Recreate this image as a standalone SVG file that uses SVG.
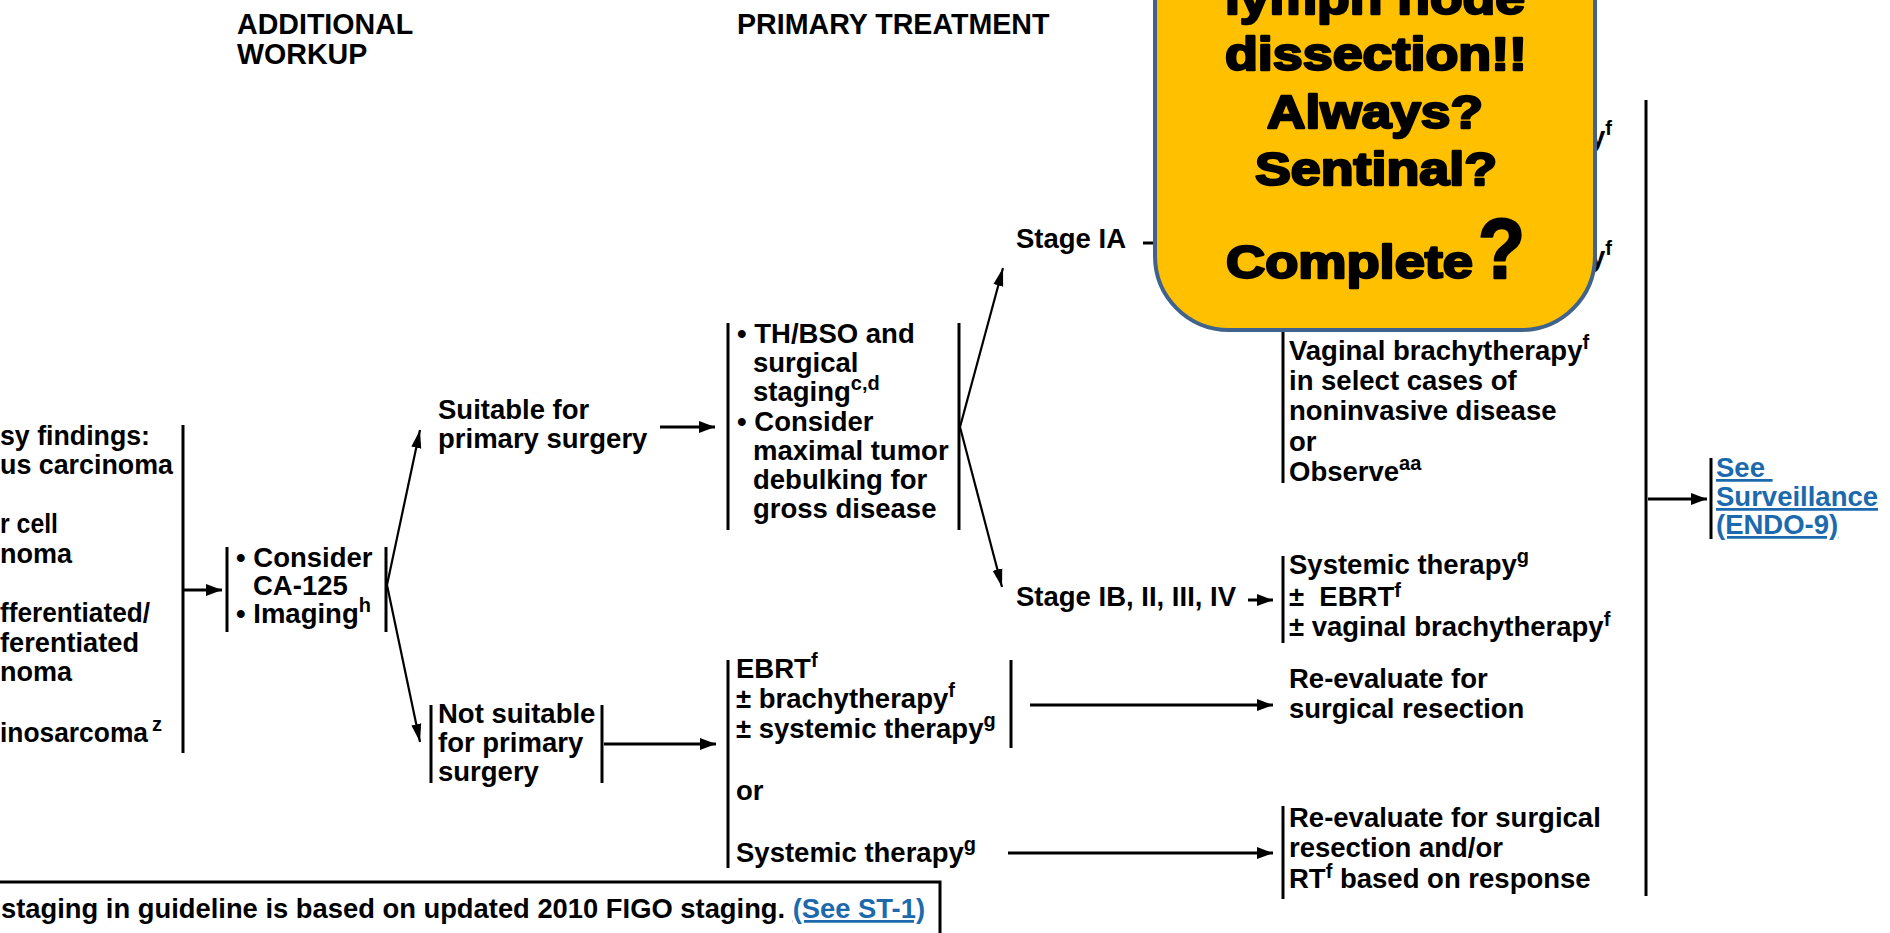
<svg xmlns="http://www.w3.org/2000/svg" width="1890" height="933" viewBox="0 0 1890 933">
<defs>
<style>
.t{font-family:"Liberation Sans",Arial,sans-serif;font-weight:bold;font-size:27.5px;fill:#000}
.h{font-size:28.6px}
.s{font-size:20px}
.lk{fill:#1c6aad;text-decoration:underline}
.bar{stroke:#000;stroke-width:3;fill:none}
.c{stroke:#000;stroke-width:3;fill:none}
.cd{stroke:#000;stroke-width:2.2;fill:none}
.co{font-family:"Liberation Sans",Arial,sans-serif;font-weight:bold;font-size:46px;fill:#000;stroke:#000;stroke-width:2.4;stroke-linejoin:round}
</style>
<marker id="ah" markerUnits="userSpaceOnUse" markerWidth="18" markerHeight="14" refX="16" refY="7" orient="auto">
<path d="M0,1 L16,7 L0,13 z" fill="#000"/>
</marker>
<marker id="ahd" markerUnits="userSpaceOnUse" markerWidth="20" markerHeight="12" refX="18" refY="6" orient="auto">
<path d="M0,1 L18,6 L0,11 z" fill="#000"/>
</marker>
</defs>
<rect x="0" y="0" width="1890" height="933" fill="#fff"/>

<g id="headers">
<text class="t h" x="237" y="34">ADDITIONAL</text>
<text class="t h" x="237" y="64">WORKUP</text>
<text class="t h" x="737" y="34">PRIMARY TREATMENT</text>
</g>

<g id="connectors">
<line class="c" x1="183" y1="590" x2="222" y2="590" marker-end="url(#ah)"/>
<line class="cd" x1="387" y1="585" x2="420" y2="430" marker-end="url(#ahd)"/>
<line class="cd" x1="387" y1="585" x2="420" y2="742" marker-end="url(#ahd)"/>
<line class="c" x1="660" y1="427" x2="715" y2="427" marker-end="url(#ah)"/>
<line class="cd" x1="960" y1="427" x2="1003" y2="268" marker-end="url(#ahd)"/>
<line class="cd" x1="960" y1="427" x2="1002" y2="587" marker-end="url(#ahd)"/>
<line class="c" x1="1143" y1="243" x2="1165" y2="243"/>
<line class="c" x1="1248" y1="600" x2="1273" y2="600" marker-end="url(#ah)"/>
<line class="c" x1="604" y1="744" x2="716" y2="744" marker-end="url(#ah)"/>
<line class="c" x1="1030" y1="705" x2="1273" y2="705" marker-end="url(#ah)"/>
<line class="c" x1="1008" y1="853" x2="1273" y2="853" marker-end="url(#ah)"/>
<line class="bar" x1="1646" y1="100" x2="1646" y2="896"/>
<line class="c" x1="1648" y1="499" x2="1707" y2="499" marker-end="url(#ah)"/>
</g>

<g id="n-findings">
<text class="t" x="0" y="445" textLength="150" lengthAdjust="spacingAndGlyphs">sy findings:</text>
<text class="t" x="0" y="474" textLength="173" lengthAdjust="spacingAndGlyphs">us carcinoma</text>
<text class="t" x="0" y="533" textLength="58" lengthAdjust="spacingAndGlyphs">r cell</text>
<text class="t" x="0" y="563" textLength="72" lengthAdjust="spacingAndGlyphs">noma</text>
<text class="t" x="0" y="622" textLength="150" lengthAdjust="spacingAndGlyphs">fferentiated/</text>
<text class="t" x="0" y="652" textLength="139" lengthAdjust="spacingAndGlyphs">ferentiated</text>
<text class="t" x="0" y="681" textLength="72" lengthAdjust="spacingAndGlyphs">noma</text>
<text class="t" x="0" y="742" textLength="148" lengthAdjust="spacingAndGlyphs">inosarcoma</text>
<text class="t s" x="152" y="731">z</text>
<line class="bar" x1="183" y1="425" x2="183" y2="753"/>
</g>

<g id="n-workup">
<line class="bar" x1="227" y1="547" x2="227" y2="632"/>
<line class="bar" x1="386" y1="547" x2="386" y2="632"/>
<text class="t" x="236" y="567">• Consider</text>
<text class="t" x="253" y="595">CA-125</text>
<text class="t" x="236" y="623">• Imaging<tspan class="s" dy="-11">h</tspan></text>
</g>

<g id="n-suitable">
<text class="t" x="438" y="419">Suitable for</text>
<text class="t" x="438" y="448">primary surgery</text>
</g>

<g id="n-notsuitable">
<line class="bar" x1="431" y1="705" x2="431" y2="783"/>
<line class="bar" x1="602" y1="705" x2="602" y2="783"/>
<text class="t" x="438" y="723">Not suitable</text>
<text class="t" x="438" y="752">for primary</text>
<text class="t" x="438" y="781">surgery</text>
</g>

<g id="n-thbso">
<line class="bar" x1="728" y1="323" x2="728" y2="530"/>
<line class="bar" x1="959" y1="323" x2="959" y2="530"/>
<text class="t" x="737" y="343">• TH/BSO and</text>
<text class="t" x="753" y="372">surgical</text>
<text class="t" x="753" y="401">staging<tspan class="s" dy="-11">c,d</tspan></text>
<text class="t" x="737" y="431">• Consider</text>
<text class="t" x="753" y="460">maximal tumor</text>
<text class="t" x="753" y="489">debulking for</text>
<text class="t" x="753" y="518">gross disease</text>
</g>

<g id="n-stageIA">
<text class="t" x="1016" y="248">Stage IA</text>
</g>

<g id="n-stageIB">
<text class="t" x="1016" y="606">Stage IB, II, III, IV</text>
</g>

<g id="n-stageIA-options">
<text class="t" x="1590" y="146">y<tspan class="s" dy="-11">f</tspan></text>
<text class="t" x="1590" y="266">y<tspan class="s" dy="-11">f</tspan></text>
</g>

<g id="n-vaginal">
<line class="bar" x1="1283" y1="300" x2="1283" y2="483"/>
<text class="t" x="1289" y="360">Vaginal brachytherapy<tspan class="s" dy="-11">f</tspan></text>
<text class="t" x="1289" y="390">in select cases of</text>
<text class="t" x="1289" y="420">noninvasive disease</text>
<text class="t" x="1289" y="451">or</text>
<text class="t" x="1289" y="481">Observe<tspan class="s" dy="-11">aa</tspan></text>
</g>

<g id="n-systemic">
<line class="bar" x1="1283" y1="556" x2="1283" y2="643"/>
<text class="t" x="1289" y="574">Systemic therapy<tspan class="s" dy="-11">g</tspan></text>
<text class="t" x="1289" y="606">±&#160; EBRT<tspan class="s" dy="-9">f</tspan></text>
<text class="t" x="1289" y="636">± vaginal brachytherapy<tspan class="s" dy="-10">f</tspan></text>
</g>

<g id="n-ebrt">
<line class="bar" x1="728" y1="660" x2="728" y2="868"/>
<line class="bar" x1="1011" y1="660" x2="1011" y2="748"/>
<text class="t" x="736" y="678">EBRT<tspan class="s" dy="-11">f</tspan></text>
<text class="t" x="736" y="708">± brachytherapy<tspan class="s" dy="-11">f</tspan></text>
<text class="t" x="736" y="738">± systemic therapy<tspan class="s" dy="-11">g</tspan></text>
<text class="t" x="736" y="800">or</text>
<text class="t" x="736" y="862">Systemic therapy<tspan class="s" dy="-11">g</tspan></text>
</g>

<g id="n-reeval1">
<text class="t" x="1289" y="688">Re-evaluate for</text>
<text class="t" x="1289" y="718">surgical resection</text>
</g>

<g id="n-reeval2">
<line class="bar" x1="1283" y1="806" x2="1283" y2="899"/>
<text class="t" x="1289" y="827">Re-evaluate for surgical</text>
<text class="t" x="1289" y="857">resection and/or</text>
<text class="t" x="1289" y="888">RT<tspan class="s" dy="-10">f</tspan><tspan dy="10"> based on response</tspan></text>
</g>

<g id="n-surveillance">
<line class="bar" x1="1711" y1="458" x2="1711" y2="539"/>
<text class="t lk" x="1716" y="477" xml:space="preserve">See </text>
<text class="t lk" x="1716" y="506">Surveillance</text>
<text class="t lk" x="1716" y="534">(ENDO-9)</text>
</g>

<g id="n-footnote">
<rect x="-10" y="882" width="950" height="70" fill="#fff" stroke="#000" stroke-width="3"/>
<text class="t" x="1" y="918" textLength="924" lengthAdjust="spacingAndGlyphs">staging in guideline is based on updated 2010 FIGO staging. <tspan class="lk">(See ST-1)</tspan></text>
</g>

<g id="n-callout">
<rect x="1155" y="-90" width="440" height="420" rx="74" ry="74" fill="#FFC000" stroke="#40638E" stroke-width="4"/>
<text class="co" x="1225" y="14" textLength="300" lengthAdjust="spacingAndGlyphs">lymph node</text>
<text class="co" x="1225" y="70" textLength="302" lengthAdjust="spacingAndGlyphs">dissection!!</text>
<text class="co" x="1267" y="128" textLength="216" lengthAdjust="spacingAndGlyphs">Always?</text>
<text class="co" x="1255" y="185" textLength="242" lengthAdjust="spacingAndGlyphs">Sentinal?</text>
<text class="co" x="1226" y="278" textLength="247" lengthAdjust="spacingAndGlyphs">Complete</text>
<text class="co" x="1478" y="278" style="font-size:85px" textLength="47" lengthAdjust="spacingAndGlyphs">?</text>
</g>
</svg>
